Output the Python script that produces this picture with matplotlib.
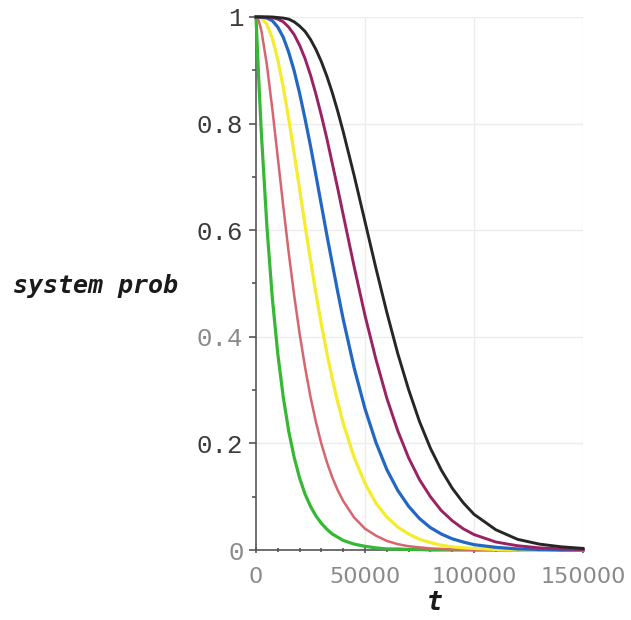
import numpy as np
import matplotlib
matplotlib.use('Agg')
import matplotlib.pyplot as plt
from matplotlib.ticker import MultipleLocator

#------------- data -------------#
t = [0, 1250, 2500, 5000, 7500, 10000, 12500, 15000, 17500, 20000,
     22500, 25000, 27500, 30000, 32500, 35000, 37500, 40000,
     45000, 50000, 55000, 60000, 65000, 70000, 75000, 80000, 85000, 90000, 95000, 100000,
     110000, 120000, 130000, 140000, 150000]

p_green = [1.0, 0.883, 0.779, 0.607, 0.472, 0.368, 0.287, 0.223, 0.174, 0.135,
           0.105, 0.082, 0.064, 0.050, 0.039, 0.030, 0.024, 0.018,
           0.011, 0.007, 0.004, 0.002, 0.002, 0.001, 0.001, 0.0, 0.0, 0.0, 0.0, 0.0,
           0.0, 0.0, 0.0, 0.0, 0.0]
p_red = [1.0, 0.993, 0.974, 0.910, 0.827, 0.736, 0.645, 0.558, 0.478, 0.406,
         0.343, 0.287, 0.240, 0.199, 0.165, 0.136, 0.112, 0.092,
         0.061, 0.040, 0.027, 0.017, 0.011, 0.007, 0.005, 0.003, 0.002, 0.001, 0.001, 0.0,
         0.0, 0.0, 0.0, 0.0, 0.0]
p_yellow = [1.0, 1.0, 0.998, 0.986, 0.960, 0.920, 0.868, 0.809, 0.744, 0.677,
            0.609, 0.544, 0.481, 0.423, 0.370, 0.321, 0.277, 0.238,
            0.174, 0.125, 0.088, 0.062, 0.043, 0.030, 0.020, 0.014, 0.009, 0.006, 0.004, 0.003,
            0.001, 0.0, 0.0, 0.0, 0.0]
p_blue = [1.0, 1.0, 1.0, 0.998, 0.993, 0.981, 0.962, 0.934, 0.899, 0.857,
          0.809, 0.758, 0.703, 0.647, 0.591, 0.537, 0.484, 0.433,
          0.342, 0.265, 0.202, 0.151, 0.112, 0.082, 0.059, 0.042, 0.030, 0.021, 0.015, 0.010,
          0.005, 0.002, 0.001, 0.0, 0.0]
p_purple = [1.0, 1.0, 1.0, 1.0, 0.999, 0.996, 0.991, 0.981, 0.967, 0.947,
            0.922, 0.891, 0.855, 0.815, 0.772, 0.725, 0.678, 0.629,
            0.532, 0.440, 0.358, 0.285, 0.224, 0.173, 0.132, 0.100, 0.074, 0.055, 0.040, 0.029,
            0.015, 0.008, 0.004, 0.002, 0.001]
p_black = [1.0, 1.0, 1.0, 1.0, 1.0, 0.999, 0.998, 0.996, 0.991, 0.983,
           0.973, 0.958, 0.939, 0.916, 0.889, 0.858, 0.823, 0.785,
           0.703, 0.616, 0.529, 0.446, 0.369, 0.301, 0.241, 0.191, 0.150, 0.116, 0.089, 0.067,
           0.038, 0.020, 0.011, 0.006, 0.003]

series = [p_green, p_red, p_yellow, p_blue, p_purple, p_black]
colors = ['#35b935', '#d8646e', '#f4ec2c', '#2367c6', '#9a2262', '#262626']
widths = [2.3, 1.8, 2.3, 2.3, 2.1, 2.1]

y_ticks = [0, 0.2, 0.4, 0.6, 0.8, 1]
y_tick_labels = ['0', '0.2', '0.4', '0.6', '0.8', '1']
y_tick_colors = ['#8a8a8a', '#3a3a3a', '#8a8a8a', '#3a3a3a', '#3a3a3a', '#3a3a3a']
x_ticks = [0, 50000, 100000, 150000]
x_tick_labels = ['0', '50000', '100000', '150000']

#------------- figure -------------#
fig = plt.figure(figsize=(6.31, 6.20), dpi=100)
ax = fig.add_axes([256/631, 70/620, (583-256)/631, (550-17)/620])

for p, c, w in zip(series, colors, widths):
    ax.plot(t, p, color=c, lw=w, clip_on=False, zorder=3, solid_joinstyle='round')

ax.set_xlim(0, 150000)
ax.set_ylim(0, 1)

## grid ##
for xv in x_ticks[1:]:
    ax.axvline(xv, color='#ececec', lw=1.0, zorder=0)
for yv in y_ticks[1:]:
    ax.axhline(yv, color='#ececec', lw=1.0, zorder=0)

## spines ##
for s in ['top', 'right']:
    ax.spines[s].set_visible(False)
for s in ['left', 'bottom']:
    ax.spines[s].set_color('#555555')
    ax.spines[s].set_linewidth(1.2)
    ax.spines[s].set_zorder(2)

ax.set_xticks(x_ticks)
ax.set_xticklabels(x_tick_labels, fontsize=16, color='#8a8a8a', family='DejaVu Sans')
ax.xaxis.set_minor_locator(MultipleLocator(10000))
ax.set_yticks(y_ticks)
ax.set_yticklabels(y_tick_labels, fontsize=18.5, family='Liberation Mono')
for lab, c in zip(ax.get_yticklabels(), y_tick_colors):
    lab.set_color(c)
ax.yaxis.set_minor_locator(MultipleLocator(0.1))

ax.tick_params(axis='both', which='major', length=5, width=1.2, color='#555555')
ax.tick_params(axis='both', which='minor', length=3, width=1.2, color='#555555')
ax.tick_params(axis='x', which='both', direction='inout', pad=10)
ax.tick_params(axis='y', which='major', pad=4)

## axis labels ##
ax.set_ylabel('system prob', rotation=0, fontsize=18, fontweight='bold', fontstyle='italic',
              family='DejaVu Sans Mono', color='#1a1a1a', va='center', ha='center')
ax.yaxis.set_label_coords(-0.492, 0.495)
ax.set_xlabel('t', fontsize=19, fontweight='bold', fontstyle='italic',
              family='DejaVu Sans Mono', color='#1a1a1a', va='center')
ax.xaxis.set_label_coords(0.547, -0.099)

fig.savefig('out.png', dpi=100, facecolor='white')
